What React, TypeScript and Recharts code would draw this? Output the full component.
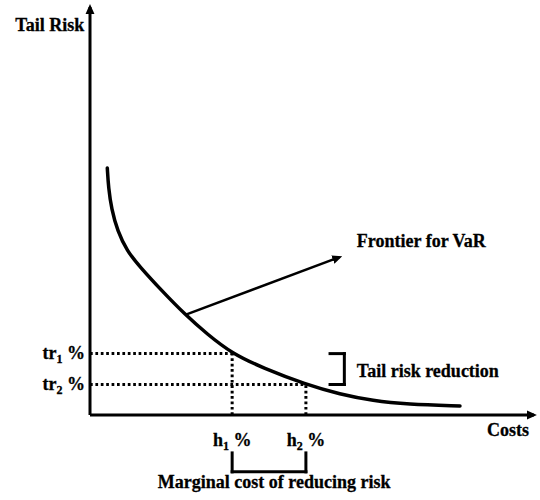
import { ComposedChart, Line, XAxis, YAxis, ReferenceLine, ReferenceDot } from 'recharts';

// frontier curve (cost vs tail risk, 0-100 scale)
const frontierCost = [3.87, 4.14, 4.81, 6.15, 8.28, 11.19, 16.11, 21.25, 26.17, 31.8, 38.7, 48.3, 55.93, 63.31, 70.92, 82.77];
const frontierRisk = [59.95, 55.1, 50.0, 44.66, 39.81, 35.92, 30.1, 24.39, 19.66, 14.9, 11.41, 7.4, 5.03, 3.45, 2.6, 2.18];

const riskLevels = [14.9, 7.4]; // tr1, tr2
const costLevels = [31.8, 48.3]; // h1, h2
const riskTickNames = ['1', '2'];
const costTickNames = ['1', '2'];

const frontierData = frontierCost.map((cost, i) => ({ cost, risk: frontierRisk[i] }));

const FONT = 'Liberation Serif, Tinos, DejaVu Serif, serif';
const textStyle = { fontFamily: FONT, fontWeight: 700, fontSize: 18 };

type Pt = { x: number; y: number };

const RiskTick = ({ x, y, payload }: any) => {
  const idx = riskLevels.indexOf(payload.value);
  return (
    <text x={x} y={y} dy={5} textAnchor="end" style={textStyle} fill="#000" stroke="#000" strokeWidth={0.3}>
      tr<tspan fontSize={12} dy={4}>{riskTickNames[idx]}</tspan>
      <tspan dy={-4}> %</tspan>
    </text>
  );
};

const CostTick = ({ x, y, payload }: any) => {
  const idx = costLevels.indexOf(payload.value);
  return (
    <text x={x} y={y} dy={29} textAnchor="middle" style={textStyle} fill="#000" stroke="#000" strokeWidth={0.3}>
      h<tspan fontSize={12} dy={4}>{costTickNames[idx]}</tspan>
      <tspan dy={-4}> %</tspan>
    </text>
  );
};

const seg = (a: Pt, b: Pt): [Pt, Pt] => [a, b];

const [tr1, tr2] = riskLevels;
const [h1, h2] = costLevels;

const axisSegments = [seg({ x: 0, y: 0 }, { x: 0, y: 99 }), seg({ x: 0, y: 0 }, { x: 99.3, y: 0 })];

const dottedSegments = [
  seg({ x: 0, y: tr1 }, { x: h1, y: tr1 }),
  seg({ x: 0, y: tr2 }, { x: h2, y: tr2 }),
  seg({ x: h1, y: 0 }, { x: h1, y: tr1 }),
  seg({ x: h2, y: 0 }, { x: h2, y: tr2 }),
];

const bracketSegments = [
  seg({ x: 56.9, y: tr1 }, { x: 56.9, y: tr2 }),
  seg({ x: 53.7, y: tr1 }, { x: 56.9, y: tr1 }),
  seg({ x: 53.7, y: tr2 }, { x: 56.9, y: tr2 }),
  seg({ x: h1, y: -9.2 }, { x: h1, y: -13.8 }),
  seg({ x: h2, y: -9.2 }, { x: h2, y: -13.8 }),
  seg({ x: h1, y: -13.8 }, { x: h2, y: -13.8 }),
];

const pointer = seg({ x: 21.3, y: 24.3 }, { x: 55.8, y: 38.3 });

const labels = [
  { text: 'Tail Risk', x: -1.3, y: 93.2, anchor: 'end' },
  { text: 'Costs', x: 88.8, y: -5.1, anchor: 'start' },
  { text: 'Frontier for VaR', x: 59.7, y: 40.8, anchor: 'start' },
  { text: 'Tail risk reduction', x: 59.7, y: 9.2, anchor: 'start' },
  { text: 'Marginal cost of reducing risk', x: 41.2, y: -17.7, anchor: 'middle' },
];

const arrowLine = (width: number) => (p: any) => (
  <line x1={p.x1} y1={p.y1} x2={p.x2} y2={p.y2} stroke="#000" strokeWidth={width} markerEnd="url(#arrowHead)" />
);

export default function App() {
  return (
    <div style={{ position: 'absolute', left: 0, top: 0, background: '#fff' }}>
      <ComposedChart width={540} height={500} margin={{ top: 3, right: 3, left: 10, bottom: 55 }}>
        <defs>
          <marker id="arrowHead" viewBox="0 0 10 10" refX="7" refY="5" markerWidth="10" markerHeight="10" markerUnits="userSpaceOnUse" orient="auto">
            <path d="M0,0.5 L10,5 L0,9.5 z" fill="#000" />
          </marker>
        </defs>
        <XAxis
          type="number"
          dataKey="cost"
          domain={[0, 100]}
          ticks={costLevels}
          interval={0}
          axisLine={false}
          tickLine={false}
          tickSize={0}
          tick={<CostTick />}
          height={30}
          allowDataOverflow
        />
        <YAxis
          type="number"
          dataKey="risk"
          domain={[0, 100]}
          ticks={riskLevels}
          interval={0}
          axisLine={false}
          tickLine={false}
          tickSize={0}
          tickMargin={5}
          tick={<RiskTick />}
          width={80}
          allowDataOverflow
        />
        {dottedSegments.map((s, i) => (
          <ReferenceLine key={`d${i}`} segment={s} stroke="#000" strokeWidth={3} strokeDasharray="2.7 2.7" ifOverflow="visible" />
        ))}
        {axisSegments.map((s, i) => (
          <ReferenceLine key={`a${i}`} segment={s} ifOverflow="visible" shape={arrowLine(3)} />
        ))}
        {bracketSegments.map((s, i) => (
          <ReferenceLine key={`b${i}`} segment={s} stroke="#000" strokeWidth={3} strokeLinecap="square" ifOverflow="visible" />
        ))}
        <ReferenceLine segment={pointer} ifOverflow="visible" shape={arrowLine(2.5)} />
        <Line
          data={frontierData}
          dataKey="risk"
          type="basis"
          stroke="#000"
          strokeWidth={3.5}
          strokeLinecap="round"
          dot={false}
          activeDot={false}
          isAnimationActive={false}
        />
        {labels.map((l) => (
          <ReferenceDot
            key={l.text}
            x={l.x}
            y={l.y}
            ifOverflow="visible"
            shape={(p: any) => (
              <text x={p.cx} y={p.cy} textAnchor={l.anchor} style={textStyle} fill="#000" stroke="#000" strokeWidth={0.3}>
                {l.text}
              </text>
            )}
          />
        ))}
      </ComposedChart>
    </div>
  );
}
